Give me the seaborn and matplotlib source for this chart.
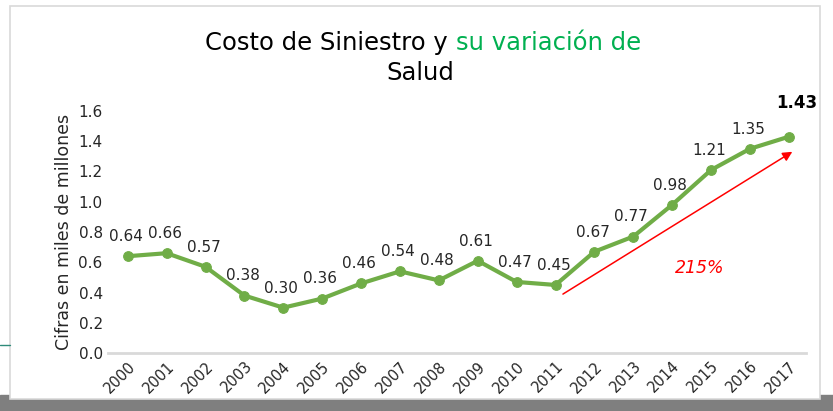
import matplotlib.pyplot as plt
import matplotlib.patches as mpatches
import pandas as pd
import seaborn as sns

# Data
YEARS = [str(y) for y in range(2000, 2018)]
COSTO = [0.64, 0.66, 0.57, 0.38, 0.30, 0.36, 0.46, 0.54, 0.48, 0.61,
         0.47, 0.45, 0.67, 0.77, 0.98, 1.21, 1.35, 1.43]
Y_TICKS = [0.0, 0.2, 0.4, 0.6, 0.8, 1.0, 1.2, 1.4, 1.6]

LINE_COLOR = "#70AD47"
GREEN_TITLE = "#00B050"
TEXT_COLOR = "#262626"

sns.set_theme(style="white")
plt.rcParams["font.family"] = ["DejaVu Sans"]

df = pd.DataFrame({"year": YEARS, "costo": COSTO})
df["pos"] = range(len(df))

fig = plt.figure(figsize=(8.33, 4.11), dpi=100)
fig.patch.set_facecolor("white")

# page decorations: frame, bottom strip, left line
fig.add_artist(mpatches.Rectangle((0, 0), 1, 0.04, transform=fig.transFigure,
                                  color="#7f7f7f", zorder=0))
fig.add_artist(mpatches.Rectangle((0.012, 0.03), 0.972, 0.955, transform=fig.transFigure,
                                  facecolor="white", edgecolor="#d9d9d9", lw=1.2, zorder=1))
fig.add_artist(plt.Line2D([0, 0.012], [0.16, 0.16], transform=fig.transFigure,
                          color="#2e8b7a", lw=1, zorder=2))

ax = fig.add_axes([0.13, 0.141, 0.838, 0.589])
ax.set_zorder(3)
ax.patch.set_alpha(0)

sns.lineplot(data=df, x="pos", y="costo", ax=ax, color=LINE_COLOR, linewidth=3,
             marker="o", markersize=7, markeredgecolor=LINE_COLOR)

for i, v in enumerate(COSTO):
    if i == len(COSTO) - 1:
        ax.text(i + 0.2, v + 0.16, f"{v:.2f}", ha="center", va="bottom",
                fontsize=12, fontweight="bold", color="black")
    else:
        ax.text(i - 0.05, v + 0.08, f"{v:.2f}", ha="center", va="bottom",
                fontsize=11, color=TEXT_COLOR)

ax.annotate("", xy=(17.15, 1.34), xytext=(11.13, 0.38),
            arrowprops=dict(arrowstyle="-|>", color="red", lw=1.1, mutation_scale=14))
ax.text(14.7, 0.56, "215%", color="red", fontsize=12.5, fontstyle="italic",
        ha="center", va="center")

ax.set_xlim(-0.5, 17.45)
ax.set_ylim(0, 1.6)
ax.set_yticks(Y_TICKS)
ax.set_yticklabels([f"{t:.1f}" for t in Y_TICKS], fontsize=11, color=TEXT_COLOR)
ax.set_xticks(range(len(YEARS)))
ax.set_xticklabels(YEARS, rotation=45, ha="right", rotation_mode="anchor",
                   fontsize=10.5, color=TEXT_COLOR)
ax.tick_params(axis="both", length=0, pad=4)
ax.set_xlabel("")
ax.set_ylabel("Cifras en miles de millones", fontsize=12.5, color=TEXT_COLOR, labelpad=4)

for side in ["top", "right", "left"]:
    ax.spines[side].set_visible(False)
ax.spines["bottom"].set_color("#d9d9d9")
ax.spines["bottom"].set_linewidth(2)
ax.spines["bottom"].set_zorder(0)

# title with two colors, first line centred as a whole
TITLE_SIZE = 17.5
t1 = fig.text(0, 0.895, "Costo de Siniestro y ", fontsize=TITLE_SIZE, color="black",
              ha="left", va="center")
t2 = fig.text(0, 0.895, "su variación de", fontsize=TITLE_SIZE, color=GREEN_TITLE,
              ha="left", va="center")
fig.canvas.draw()
w1 = t1.get_window_extent().width / fig.bbox.width
w2 = t2.get_window_extent().width / fig.bbox.width
x0 = 0.508 - (w1 + w2) / 2
t1.set_x(x0)
t2.set_x(x0 + w1)
fig.text(0.505, 0.822, "Salud", fontsize=TITLE_SIZE, color="black", ha="center", va="center")

fig.savefig("out.png", dpi=100, facecolor="white")
